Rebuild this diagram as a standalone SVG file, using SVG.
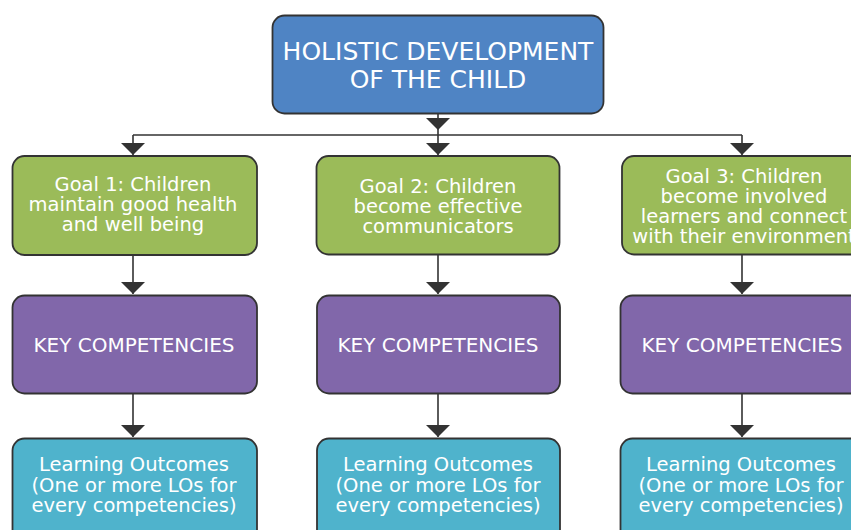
<svg xmlns="http://www.w3.org/2000/svg" width="851" height="530" viewBox="0 0 851 530">
<style>
  .box { stroke: #333333; stroke-width: 1.8; }
  .blue { fill: #4F84C4; }
  .green { fill: #9BBB59; }
  .purple { fill: #8167AA; }
  .teal { fill: #4FB3CC; }
  text { font-family: "DejaVu Sans", "Liberation Sans", sans-serif; fill: #FFFFFF; text-anchor: middle; }
  .t1 { font-size: 25px; }
  .t2 { font-size: 19.5px; }
  .t3 { font-size: 20px; }
  .conn { stroke: #333333; stroke-width: 1.6; fill: none; }
</style>
<defs>
  <marker id="arr" markerUnits="userSpaceOnUse" viewBox="0 0 12 24" markerWidth="12" markerHeight="24" refX="12" refY="12" orient="auto">
    <path d="M0,0 L12,12 L0,24 Z" fill="#333333"/>
  </marker>
</defs>
<rect width="851" height="530" fill="#FFFFFF"/>

<g id="connectors">
  <path class="conn" d="M438,113 V130" marker-end="url(#arr)"/>
  <path class="conn" d="M438,130 V135"/>
  <path class="conn" d="M133,135 H742"/>
  <path class="conn" d="M133,135 V155" marker-end="url(#arr)"/>
  <path class="conn" d="M438,135 V155" marker-end="url(#arr)"/>
  <path class="conn" d="M742,135 V155" marker-end="url(#arr)"/>
  <path class="conn" d="M133,255 V294" marker-end="url(#arr)"/>
  <path class="conn" d="M438,255 V294" marker-end="url(#arr)"/>
  <path class="conn" d="M742,255 V294" marker-end="url(#arr)"/>
  <path class="conn" d="M133,393 V437" marker-end="url(#arr)"/>
  <path class="conn" d="M438,393 V437" marker-end="url(#arr)"/>
  <path class="conn" d="M742,393 V437" marker-end="url(#arr)"/>
</g>

<g id="root">
  <rect class="box blue" x="272.5" y="15.5" width="331" height="98" rx="12"/>
  <text class="t1" x="438" y="60">HOLISTIC DEVELOPMENT</text>
  <text class="t1" x="438" y="88">OF THE CHILD</text>
</g>

<g id="goal1">
  <rect class="box green" x="12.5" y="156" width="244.5" height="99" rx="12"/>
  <text class="t2" x="133" y="191">Goal 1: Children</text>
  <text class="t2" x="133" y="211">maintain good health</text>
  <text class="t2" x="133" y="231">and well being</text>
</g>

<g id="goal2">
  <rect class="box green" x="316.5" y="156" width="243" height="98.5" rx="12"/>
  <text class="t2" x="438" y="193">Goal 2: Children</text>
  <text class="t2" x="438" y="213">become effective</text>
  <text class="t2" x="438" y="233">communicators</text>
</g>

<g id="goal3">
  <rect class="box green" x="622" y="156" width="245" height="98.5" rx="12"/>
  <text class="t2" x="744" y="183">Goal 3: Children</text>
  <text class="t2" x="744" y="203">become involved</text>
  <text class="t2" x="744" y="223">learners and connect</text>
  <text class="t2" x="744" y="243">with their environment</text>
</g>

<g id="kc1">
  <rect class="box purple" x="12.5" y="295.5" width="244.5" height="98" rx="12"/>
  <text class="t3" x="134" y="352">KEY COMPETENCIES</text>
</g>

<g id="kc2">
  <rect class="box purple" x="317" y="295.5" width="243" height="98" rx="12"/>
  <text class="t3" x="438" y="352">KEY COMPETENCIES</text>
</g>

<g id="kc3">
  <rect class="box purple" x="620.5" y="295.5" width="245" height="98" rx="12"/>
  <text class="t3" x="742" y="352">KEY COMPETENCIES</text>
</g>

<g id="lo1">
  <rect class="box teal" x="12.5" y="438.5" width="244.5" height="110" rx="12"/>
  <text class="t2" x="134" y="471">Learning Outcomes</text>
  <text class="t2" x="134" y="492">(One or more LOs for</text>
  <text class="t2" x="134" y="512">every competencies)</text>
</g>

<g id="lo2">
  <rect class="box teal" x="317" y="438.5" width="243" height="110" rx="12"/>
  <text class="t2" x="438" y="471">Learning Outcomes</text>
  <text class="t2" x="438" y="492">(One or more LOs for</text>
  <text class="t2" x="438" y="512">every competencies)</text>
</g>

<g id="lo3">
  <rect class="box teal" x="620.5" y="438.5" width="245" height="110" rx="12"/>
  <text class="t2" x="741" y="471">Learning Outcomes</text>
  <text class="t2" x="741" y="492">(One or more LOs for</text>
  <text class="t2" x="741" y="512">every competencies)</text>
</g>
</svg>
